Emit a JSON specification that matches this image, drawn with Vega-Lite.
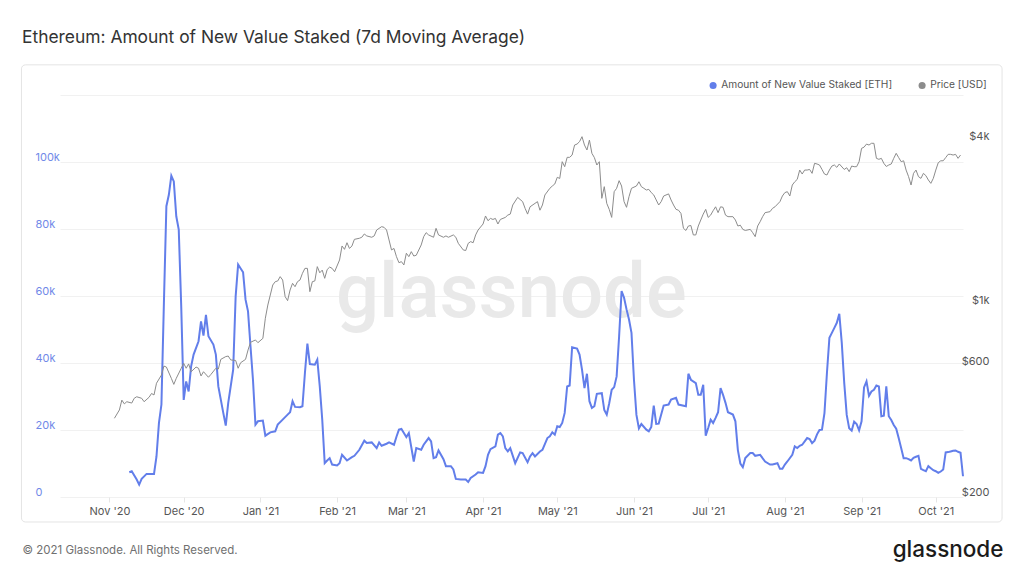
{
  "$schema": "https://vega.github.io/schema/vega-lite/v6.json",
  "width": 903,
  "height": 402,
  "autosize": "none",
  "padding": {"left": 60, "top": 95, "right": 61, "bottom": 79},
  "background": "#ffffff",
  "config": {"font": "Inter", "view": {"stroke": null}},
  "title": {"text": "Ethereum: Amount of New Value Staked (7d Moving Average)", "anchor": "start", "frame": "group", "dx": -38, "offset": 18, "fontSize": 17.4, "fontWeight": 400, "color": "#333333", "font": "Inter"},
  "datasets": {
    "staked": [
      {"date": "2020-11-09", "v": 7400}, {"date": "2020-11-10", "v": 7700}, {"date": "2020-11-12", "v": 5200}, {"date": "2020-11-13", "v": 3700}, {"date": "2020-11-14", "v": 5400}, {"date": "2020-11-16", "v": 6900}, {"date": "2020-11-18", "v": 6900}, {"date": "2020-11-19", "v": 6900}, {"date": "2020-11-20", "v": 12100}, {"date": "2020-11-21", "v": 22100}, {"date": "2020-11-22", "v": 27600}, {"date": "2020-11-23", "v": 58000}, {"date": "2020-11-24", "v": 86800}, {"date": "2020-11-25", "v": 90200}, {"date": "2020-11-26", "v": 95900}, {"date": "2020-11-27", "v": 94200}, {"date": "2020-11-28", "v": 83800}, {"date": "2020-11-29", "v": 79800}, {"date": "2020-11-30", "v": 56900},
      {"date": "2020-12-01", "v": 29000}, {"date": "2020-12-02", "v": 34500}, {"date": "2020-12-03", "v": 31500}, {"date": "2020-12-04", "v": 39000}, {"date": "2020-12-05", "v": 42500}, {"date": "2020-12-07", "v": 46500}, {"date": "2020-12-08", "v": 52400}, {"date": "2020-12-09", "v": 48200}, {"date": "2020-12-10", "v": 54400}, {"date": "2020-12-11", "v": 48000}, {"date": "2020-12-13", "v": 45500}, {"date": "2020-12-14", "v": 42500}, {"date": "2020-12-15", "v": 33000}, {"date": "2020-12-17", "v": 25100}, {"date": "2020-12-18", "v": 21300}, {"date": "2020-12-19", "v": 28100}, {"date": "2020-12-21", "v": 38000}, {"date": "2020-12-22", "v": 59900}, {"date": "2020-12-23", "v": 69400}, {"date": "2020-12-25", "v": 67100}, {"date": "2020-12-26", "v": 58900}, {"date": "2020-12-27", "v": 55400}, {"date": "2020-12-28", "v": 45000}, {"date": "2020-12-29", "v": 35000}, {"date": "2020-12-30", "v": 21600}, {"date": "2020-12-31", "v": 22600},
      {"date": "2021-01-02", "v": 22800}, {"date": "2021-01-03", "v": 18300}, {"date": "2021-01-05", "v": 19300}, {"date": "2021-01-07", "v": 19600}, {"date": "2021-01-08", "v": 21600}, {"date": "2021-01-10", "v": 23100}, {"date": "2021-01-12", "v": 24600}, {"date": "2021-01-13", "v": 25300}, {"date": "2021-01-14", "v": 28600}, {"date": "2021-01-15", "v": 26900}, {"date": "2021-01-17", "v": 26800}, {"date": "2021-01-18", "v": 27100}, {"date": "2021-01-19", "v": 37000}, {"date": "2021-01-20", "v": 45800}, {"date": "2021-01-21", "v": 39700}, {"date": "2021-01-23", "v": 39500}, {"date": "2021-01-24", "v": 41000}, {"date": "2021-01-25", "v": 33000}, {"date": "2021-01-26", "v": 23100}, {"date": "2021-01-27", "v": 10100}, {"date": "2021-01-28", "v": 10900}, {"date": "2021-01-29", "v": 11600}, {"date": "2021-01-30", "v": 9700},
      {"date": "2021-02-01", "v": 9400}, {"date": "2021-02-02", "v": 10100}, {"date": "2021-02-03", "v": 12600}, {"date": "2021-02-05", "v": 10900}, {"date": "2021-02-07", "v": 11900}, {"date": "2021-02-08", "v": 12300}, {"date": "2021-02-10", "v": 14100}, {"date": "2021-02-12", "v": 16800}, {"date": "2021-02-13", "v": 16100}, {"date": "2021-02-15", "v": 16300}, {"date": "2021-02-17", "v": 14600}, {"date": "2021-02-18", "v": 16300}, {"date": "2021-02-19", "v": 15300}, {"date": "2021-02-21", "v": 15900}, {"date": "2021-02-22", "v": 16300}, {"date": "2021-02-24", "v": 15600}, {"date": "2021-02-25", "v": 18000}, {"date": "2021-02-26", "v": 20100}, {"date": "2021-02-27", "v": 20300}, {"date": "2021-02-28", "v": 19100},
      {"date": "2021-03-01", "v": 17900}, {"date": "2021-03-02", "v": 19100}, {"date": "2021-03-04", "v": 10600}, {"date": "2021-03-05", "v": 14600}, {"date": "2021-03-07", "v": 14100}, {"date": "2021-03-08", "v": 15600}, {"date": "2021-03-10", "v": 17600}, {"date": "2021-03-11", "v": 16600}, {"date": "2021-03-12", "v": 11600}, {"date": "2021-03-13", "v": 11900}, {"date": "2021-03-14", "v": 13900}, {"date": "2021-03-16", "v": 11300}, {"date": "2021-03-17", "v": 9200}, {"date": "2021-03-19", "v": 9200}, {"date": "2021-03-20", "v": 8200}, {"date": "2021-03-21", "v": 5400}, {"date": "2021-03-23", "v": 5200}, {"date": "2021-03-25", "v": 5200}, {"date": "2021-03-26", "v": 4500}, {"date": "2021-03-27", "v": 5700}, {"date": "2021-03-29", "v": 6700}, {"date": "2021-03-30", "v": 7400},
      {"date": "2021-04-01", "v": 7200}, {"date": "2021-04-02", "v": 9200}, {"date": "2021-04-03", "v": 12600}, {"date": "2021-04-04", "v": 14300}, {"date": "2021-04-06", "v": 15100}, {"date": "2021-04-07", "v": 18600}, {"date": "2021-04-08", "v": 19100}, {"date": "2021-04-09", "v": 18100}, {"date": "2021-04-10", "v": 14600}, {"date": "2021-04-11", "v": 13600}, {"date": "2021-04-12", "v": 14600}, {"date": "2021-04-14", "v": 10100}, {"date": "2021-04-16", "v": 13300}, {"date": "2021-04-17", "v": 13100}, {"date": "2021-04-19", "v": 10400}, {"date": "2021-04-20", "v": 12100}, {"date": "2021-04-21", "v": 13100}, {"date": "2021-04-22", "v": 12100}, {"date": "2021-04-24", "v": 13600}, {"date": "2021-04-25", "v": 14100}, {"date": "2021-04-27", "v": 17600}, {"date": "2021-04-28", "v": 18100}, {"date": "2021-04-29", "v": 19300}, {"date": "2021-04-30", "v": 18600},
      {"date": "2021-05-01", "v": 21100}, {"date": "2021-05-02", "v": 20900}, {"date": "2021-05-03", "v": 22100}, {"date": "2021-05-04", "v": 25100}, {"date": "2021-05-05", "v": 33000}, {"date": "2021-05-06", "v": 33300}, {"date": "2021-05-07", "v": 44700}, {"date": "2021-05-09", "v": 44300}, {"date": "2021-05-10", "v": 42500}, {"date": "2021-05-11", "v": 38000}, {"date": "2021-05-12", "v": 32500}, {"date": "2021-05-13", "v": 36800}, {"date": "2021-05-14", "v": 28600}, {"date": "2021-05-15", "v": 26600}, {"date": "2021-05-16", "v": 27100}, {"date": "2021-05-17", "v": 30800}, {"date": "2021-05-19", "v": 31000}, {"date": "2021-05-20", "v": 26000}, {"date": "2021-05-21", "v": 24600}, {"date": "2021-05-22", "v": 28000}, {"date": "2021-05-23", "v": 32000}, {"date": "2021-05-24", "v": 32800}, {"date": "2021-05-25", "v": 36000}, {"date": "2021-05-26", "v": 48000}, {"date": "2021-05-27", "v": 61500}, {"date": "2021-05-28", "v": 59500}, {"date": "2021-05-29", "v": 56000}, {"date": "2021-05-30", "v": 53000}, {"date": "2021-05-31", "v": 49000},
      {"date": "2021-06-01", "v": 35000}, {"date": "2021-06-02", "v": 24500}, {"date": "2021-06-03", "v": 20500}, {"date": "2021-06-04", "v": 21800}, {"date": "2021-06-06", "v": 20100}, {"date": "2021-06-07", "v": 19600}, {"date": "2021-06-08", "v": 20900}, {"date": "2021-06-09", "v": 27300}, {"date": "2021-06-10", "v": 21800}, {"date": "2021-06-11", "v": 21900}, {"date": "2021-06-13", "v": 27300}, {"date": "2021-06-15", "v": 27600}, {"date": "2021-06-16", "v": 29100}, {"date": "2021-06-18", "v": 29600}, {"date": "2021-06-19", "v": 27600}, {"date": "2021-06-22", "v": 27100}, {"date": "2021-06-23", "v": 36800}, {"date": "2021-06-24", "v": 35000}, {"date": "2021-06-26", "v": 34000}, {"date": "2021-06-27", "v": 30500}, {"date": "2021-06-28", "v": 30500}, {"date": "2021-06-29", "v": 33500}, {"date": "2021-06-30", "v": 18300},
      {"date": "2021-07-01", "v": 20600}, {"date": "2021-07-02", "v": 23100}, {"date": "2021-07-03", "v": 22100}, {"date": "2021-07-04", "v": 23600}, {"date": "2021-07-05", "v": 25300}, {"date": "2021-07-06", "v": 32500}, {"date": "2021-07-07", "v": 30500}, {"date": "2021-07-08", "v": 28100}, {"date": "2021-07-09", "v": 25300}, {"date": "2021-07-11", "v": 24600}, {"date": "2021-07-12", "v": 22600}, {"date": "2021-07-13", "v": 14000}, {"date": "2021-07-14", "v": 10000}, {"date": "2021-07-15", "v": 8900}, {"date": "2021-07-16", "v": 11600}, {"date": "2021-07-18", "v": 13100}, {"date": "2021-07-19", "v": 13100}, {"date": "2021-07-20", "v": 12300}, {"date": "2021-07-22", "v": 12600}, {"date": "2021-07-24", "v": 10600}, {"date": "2021-07-26", "v": 9700}, {"date": "2021-07-27", "v": 9700}, {"date": "2021-07-29", "v": 10100}, {"date": "2021-07-30", "v": 8400}, {"date": "2021-07-31", "v": 8400},
      {"date": "2021-08-01", "v": 9700}, {"date": "2021-08-02", "v": 10600}, {"date": "2021-08-04", "v": 12600}, {"date": "2021-08-05", "v": 15100}, {"date": "2021-08-06", "v": 14600}, {"date": "2021-08-07", "v": 15300}, {"date": "2021-08-08", "v": 15600}, {"date": "2021-08-10", "v": 17600}, {"date": "2021-08-11", "v": 17300}, {"date": "2021-08-12", "v": 16100}, {"date": "2021-08-13", "v": 16800}, {"date": "2021-08-14", "v": 18700}, {"date": "2021-08-15", "v": 20000}, {"date": "2021-08-16", "v": 20100}, {"date": "2021-08-17", "v": 25000}, {"date": "2021-08-18", "v": 37000}, {"date": "2021-08-19", "v": 47500}, {"date": "2021-08-20", "v": 49000}, {"date": "2021-08-21", "v": 50500}, {"date": "2021-08-22", "v": 52000}, {"date": "2021-08-23", "v": 54700}, {"date": "2021-08-24", "v": 46000}, {"date": "2021-08-25", "v": 34000}, {"date": "2021-08-26", "v": 24500}, {"date": "2021-08-27", "v": 20500}, {"date": "2021-08-28", "v": 19800}, {"date": "2021-08-29", "v": 22500}, {"date": "2021-08-30", "v": 21800}, {"date": "2021-08-31", "v": 19900},
      {"date": "2021-09-01", "v": 22600}, {"date": "2021-09-02", "v": 32700}, {"date": "2021-09-03", "v": 34500}, {"date": "2021-09-04", "v": 30200}, {"date": "2021-09-05", "v": 31500}, {"date": "2021-09-06", "v": 32000}, {"date": "2021-09-07", "v": 33300}, {"date": "2021-09-08", "v": 33000}, {"date": "2021-09-09", "v": 24100}, {"date": "2021-09-10", "v": 24300}, {"date": "2021-09-11", "v": 33000}, {"date": "2021-09-12", "v": 24100}, {"date": "2021-09-13", "v": 23000}, {"date": "2021-09-14", "v": 21500}, {"date": "2021-09-15", "v": 20400}, {"date": "2021-09-16", "v": 17600}, {"date": "2021-09-17", "v": 14600}, {"date": "2021-09-18", "v": 11600}, {"date": "2021-09-19", "v": 11600}, {"date": "2021-09-20", "v": 11300}, {"date": "2021-09-21", "v": 10900}, {"date": "2021-09-22", "v": 11700}, {"date": "2021-09-23", "v": 12000}, {"date": "2021-09-24", "v": 12300}, {"date": "2021-09-25", "v": 8400}, {"date": "2021-09-26", "v": 8000}, {"date": "2021-09-27", "v": 7700}, {"date": "2021-09-28", "v": 9200}, {"date": "2021-09-29", "v": 8600}, {"date": "2021-09-30", "v": 8000},
      {"date": "2021-10-01", "v": 7700}, {"date": "2021-10-02", "v": 7200}, {"date": "2021-10-03", "v": 7600}, {"date": "2021-10-04", "v": 8200}, {"date": "2021-10-05", "v": 13300}, {"date": "2021-10-06", "v": 13400}, {"date": "2021-10-07", "v": 13600}, {"date": "2021-10-08", "v": 13800}, {"date": "2021-10-09", "v": 13900}, {"date": "2021-10-10", "v": 13500}, {"date": "2021-10-11", "v": 13200}, {"date": "2021-10-12", "v": 6200}
    ],
    "price": [
      {"date": "2020-11-03", "p": 388}, {"date": "2020-11-05", "p": 416}, {"date": "2020-11-06", "p": 452}, {"date": "2020-11-07", "p": 438}, {"date": "2020-11-08", "p": 446}, {"date": "2020-11-10", "p": 441}, {"date": "2020-11-11", "p": 459}, {"date": "2020-11-12", "p": 465}, {"date": "2020-11-14", "p": 459}, {"date": "2020-11-15", "p": 446}, {"date": "2020-11-17", "p": 463}, {"date": "2020-11-18", "p": 478}, {"date": "2020-11-19", "p": 472}, {"date": "2020-11-20", "p": 521}, {"date": "2020-11-22", "p": 558}, {"date": "2020-11-23", "p": 602}, {"date": "2020-11-24", "p": 597}, {"date": "2020-11-26", "p": 543}, {"date": "2020-11-27", "p": 516}, {"date": "2020-11-28", "p": 543}, {"date": "2020-11-30", "p": 591},
      {"date": "2020-12-01", "p": 616}, {"date": "2020-12-02", "p": 591}, {"date": "2020-12-03", "p": 613}, {"date": "2020-12-04", "p": 574}, {"date": "2020-12-06", "p": 597}, {"date": "2020-12-07", "p": 591}, {"date": "2020-12-08", "p": 554}, {"date": "2020-12-09", "p": 574}, {"date": "2020-12-11", "p": 548}, {"date": "2020-12-12", "p": 561}, {"date": "2020-12-14", "p": 591}, {"date": "2020-12-15", "p": 587}, {"date": "2020-12-16", "p": 637}, {"date": "2020-12-18", "p": 652}, {"date": "2020-12-19", "p": 655}, {"date": "2020-12-20", "p": 634}, {"date": "2020-12-22", "p": 631}, {"date": "2020-12-23", "p": 591}, {"date": "2020-12-24", "p": 619}, {"date": "2020-12-26", "p": 637}, {"date": "2020-12-27", "p": 689}, {"date": "2020-12-28", "p": 735}, {"date": "2020-12-30", "p": 750}, {"date": "2020-12-31", "p": 733},
      {"date": "2021-01-02", "p": 760}, {"date": "2021-01-03", "p": 900}, {"date": "2021-01-04", "p": 1006}, {"date": "2021-01-05", "p": 1095}, {"date": "2021-01-06", "p": 1191}, {"date": "2021-01-07", "p": 1225}, {"date": "2021-01-08", "p": 1232}, {"date": "2021-01-09", "p": 1278}, {"date": "2021-01-10", "p": 1242}, {"date": "2021-01-11", "p": 1080}, {"date": "2021-01-12", "p": 1044}, {"date": "2021-01-13", "p": 1142}, {"date": "2021-01-14", "p": 1208}, {"date": "2021-01-15", "p": 1174}, {"date": "2021-01-16", "p": 1225}, {"date": "2021-01-17", "p": 1242}, {"date": "2021-01-18", "p": 1314}, {"date": "2021-01-19", "p": 1370}, {"date": "2021-01-20", "p": 1370}, {"date": "2021-01-21", "p": 1126}, {"date": "2021-01-22", "p": 1225}, {"date": "2021-01-23", "p": 1232}, {"date": "2021-01-24", "p": 1390}, {"date": "2021-01-25", "p": 1320}, {"date": "2021-01-26", "p": 1350}, {"date": "2021-01-27", "p": 1260}, {"date": "2021-01-28", "p": 1357}, {"date": "2021-01-29", "p": 1385}, {"date": "2021-01-30", "p": 1370}, {"date": "2021-01-31", "p": 1332},
      {"date": "2021-02-02", "p": 1470}, {"date": "2021-02-03", "p": 1654}, {"date": "2021-02-04", "p": 1608}, {"date": "2021-02-05", "p": 1700}, {"date": "2021-02-06", "p": 1620}, {"date": "2021-02-07", "p": 1654}, {"date": "2021-02-08", "p": 1749}, {"date": "2021-02-10", "p": 1765}, {"date": "2021-02-11", "p": 1780}, {"date": "2021-02-12", "p": 1830}, {"date": "2021-02-13", "p": 1800}, {"date": "2021-02-15", "p": 1780}, {"date": "2021-02-16", "p": 1800}, {"date": "2021-02-17", "p": 1892}, {"date": "2021-02-19", "p": 1946}, {"date": "2021-02-20", "p": 1935}, {"date": "2021-02-21", "p": 1892}, {"date": "2021-02-22", "p": 1740}, {"date": "2021-02-23", "p": 1600}, {"date": "2021-02-24", "p": 1620}, {"date": "2021-02-25", "p": 1512}, {"date": "2021-02-26", "p": 1437}, {"date": "2021-02-27", "p": 1450}, {"date": "2021-02-28", "p": 1410},
      {"date": "2021-03-01", "p": 1556}, {"date": "2021-03-02", "p": 1512}, {"date": "2021-03-03", "p": 1577}, {"date": "2021-03-04", "p": 1520}, {"date": "2021-03-05", "p": 1530}, {"date": "2021-03-07", "p": 1668}, {"date": "2021-03-08", "p": 1789}, {"date": "2021-03-09", "p": 1850}, {"date": "2021-03-10", "p": 1815}, {"date": "2021-03-12", "p": 1780}, {"date": "2021-03-13", "p": 1919}, {"date": "2021-03-14", "p": 1815}, {"date": "2021-03-16", "p": 1780}, {"date": "2021-03-17", "p": 1800}, {"date": "2021-03-18", "p": 1780}, {"date": "2021-03-20", "p": 1815}, {"date": "2021-03-21", "p": 1780}, {"date": "2021-03-22", "p": 1691}, {"date": "2021-03-24", "p": 1600}, {"date": "2021-03-25", "p": 1592}, {"date": "2021-03-26", "p": 1691}, {"date": "2021-03-27", "p": 1716}, {"date": "2021-03-28", "p": 1700}, {"date": "2021-03-29", "p": 1815}, {"date": "2021-03-30", "p": 1892},
      {"date": "2021-04-01", "p": 1990}, {"date": "2021-04-02", "p": 2129}, {"date": "2021-04-03", "p": 2046}, {"date": "2021-04-04", "p": 2086}, {"date": "2021-04-05", "p": 2068}, {"date": "2021-04-06", "p": 2086}, {"date": "2021-04-07", "p": 1990}, {"date": "2021-04-08", "p": 2068}, {"date": "2021-04-10", "p": 2104}, {"date": "2021-04-11", "p": 2145}, {"date": "2021-04-12", "p": 2163}, {"date": "2021-04-13", "p": 2335}, {"date": "2021-04-15", "p": 2490}, {"date": "2021-04-17", "p": 2402}, {"date": "2021-04-18", "p": 2270}, {"date": "2021-04-19", "p": 2163}, {"date": "2021-04-20", "p": 2300}, {"date": "2021-04-22", "p": 2368}, {"date": "2021-04-23", "p": 2402}, {"date": "2021-04-24", "p": 2235}, {"date": "2021-04-25", "p": 2335}, {"date": "2021-04-26", "p": 2541}, {"date": "2021-04-28", "p": 2688}, {"date": "2021-04-29", "p": 2740}, {"date": "2021-04-30", "p": 2787},
      {"date": "2021-05-01", "p": 2948}, {"date": "2021-05-02", "p": 2920}, {"date": "2021-05-03", "p": 3362}, {"date": "2021-05-04", "p": 3224}, {"date": "2021-05-05", "p": 3488}, {"date": "2021-05-06", "p": 3488}, {"date": "2021-05-07", "p": 3556}, {"date": "2021-05-08", "p": 3868}, {"date": "2021-05-09", "p": 3900}, {"date": "2021-05-10", "p": 3980}, {"date": "2021-05-11", "p": 4150}, {"date": "2021-05-12", "p": 3868}, {"date": "2021-05-13", "p": 3710}, {"date": "2021-05-14", "p": 4034}, {"date": "2021-05-15", "p": 3608}, {"date": "2021-05-16", "p": 3480}, {"date": "2021-05-17", "p": 3270}, {"date": "2021-05-18", "p": 3362}, {"date": "2021-05-19", "p": 2470}, {"date": "2021-05-20", "p": 2725}, {"date": "2021-05-21", "p": 2368}, {"date": "2021-05-22", "p": 2251}, {"date": "2021-05-23", "p": 2104}, {"date": "2021-05-24", "p": 2612}, {"date": "2021-05-25", "p": 2688}, {"date": "2021-05-26", "p": 2866}, {"date": "2021-05-27", "p": 2740}, {"date": "2021-05-28", "p": 2402}, {"date": "2021-05-29", "p": 2290}, {"date": "2021-05-30", "p": 2505}, {"date": "2021-05-31", "p": 2688},
      {"date": "2021-06-02", "p": 2740}, {"date": "2021-06-03", "p": 2840}, {"date": "2021-06-04", "p": 2725}, {"date": "2021-06-05", "p": 2688}, {"date": "2021-06-06", "p": 2649}, {"date": "2021-06-07", "p": 2664}, {"date": "2021-06-08", "p": 2592}, {"date": "2021-06-09", "p": 2541}, {"date": "2021-06-10", "p": 2436}, {"date": "2021-06-11", "p": 2335}, {"date": "2021-06-12", "p": 2402}, {"date": "2021-06-13", "p": 2519}, {"date": "2021-06-15", "p": 2564}, {"date": "2021-06-16", "p": 2436}, {"date": "2021-06-17", "p": 2335}, {"date": "2021-06-18", "p": 2251}, {"date": "2021-06-19", "p": 2235}, {"date": "2021-06-20", "p": 2176}, {"date": "2021-06-21", "p": 1919}, {"date": "2021-06-22", "p": 1885}, {"date": "2021-06-23", "p": 1957}, {"date": "2021-06-24", "p": 1965}, {"date": "2021-06-25", "p": 1815}, {"date": "2021-06-26", "p": 1815}, {"date": "2021-06-27", "p": 1957}, {"date": "2021-06-28", "p": 2058}, {"date": "2021-06-29", "p": 2163}, {"date": "2021-06-30", "p": 2251},
      {"date": "2021-07-01", "p": 2104}, {"date": "2021-07-02", "p": 2145}, {"date": "2021-07-03", "p": 2226}, {"date": "2021-07-04", "p": 2300}, {"date": "2021-07-05", "p": 2190}, {"date": "2021-07-06", "p": 2300}, {"date": "2021-07-07", "p": 2290}, {"date": "2021-07-08", "p": 2145}, {"date": "2021-07-09", "p": 2117}, {"date": "2021-07-11", "p": 2117}, {"date": "2021-07-12", "p": 2058}, {"date": "2021-07-13", "p": 1957}, {"date": "2021-07-14", "p": 1970}, {"date": "2021-07-15", "p": 1902}, {"date": "2021-07-16", "p": 1885}, {"date": "2021-07-18", "p": 1902}, {"date": "2021-07-19", "p": 1850}, {"date": "2021-07-20", "p": 1789}, {"date": "2021-07-21", "p": 1957}, {"date": "2021-07-22", "p": 2029}, {"date": "2021-07-23", "p": 2117}, {"date": "2021-07-24", "p": 2190}, {"date": "2021-07-26", "p": 2208}, {"date": "2021-07-27", "p": 2270}, {"date": "2021-07-28", "p": 2300}, {"date": "2021-07-30", "p": 2402}, {"date": "2021-07-31", "p": 2519},
      {"date": "2021-08-01", "p": 2592}, {"date": "2021-08-02", "p": 2612}, {"date": "2021-08-03", "p": 2519}, {"date": "2021-08-04", "p": 2763}, {"date": "2021-08-05", "p": 2840}, {"date": "2021-08-06", "p": 2898}, {"date": "2021-08-07", "p": 3134}, {"date": "2021-08-08", "p": 3031}, {"date": "2021-08-09", "p": 3134}, {"date": "2021-08-10", "p": 3134}, {"date": "2021-08-11", "p": 3150}, {"date": "2021-08-12", "p": 3048}, {"date": "2021-08-13", "p": 3316}, {"date": "2021-08-14", "p": 3298}, {"date": "2021-08-15", "p": 3270}, {"date": "2021-08-16", "p": 3150}, {"date": "2021-08-17", "p": 3031}, {"date": "2021-08-18", "p": 3006}, {"date": "2021-08-19", "p": 3134}, {"date": "2021-08-20", "p": 3241}, {"date": "2021-08-21", "p": 3270}, {"date": "2021-08-22", "p": 3206}, {"date": "2021-08-23", "p": 3298}, {"date": "2021-08-25", "p": 3150}, {"date": "2021-08-26", "p": 3196}, {"date": "2021-08-27", "p": 3092}, {"date": "2021-08-28", "p": 3241}, {"date": "2021-08-29", "p": 3224}, {"date": "2021-08-30", "p": 3224}, {"date": "2021-08-31", "p": 3362},
      {"date": "2021-09-01", "p": 3762}, {"date": "2021-09-02", "p": 3800}, {"date": "2021-09-03", "p": 3900}, {"date": "2021-09-04", "p": 3868}, {"date": "2021-09-05", "p": 3925}, {"date": "2021-09-06", "p": 3925}, {"date": "2021-09-07", "p": 3458}, {"date": "2021-09-08", "p": 3430}, {"date": "2021-09-09", "p": 3458}, {"date": "2021-09-10", "p": 3316}, {"date": "2021-09-11", "p": 3230}, {"date": "2021-09-12", "p": 3270}, {"date": "2021-09-13", "p": 3298}, {"date": "2021-09-14", "p": 3458}, {"date": "2021-09-15", "p": 3608}, {"date": "2021-09-16", "p": 3480}, {"date": "2021-09-17", "p": 3362}, {"date": "2021-09-18", "p": 3388}, {"date": "2021-09-19", "p": 3134}, {"date": "2021-09-20", "p": 2965}, {"date": "2021-09-21", "p": 2763}, {"date": "2021-09-22", "p": 3048}, {"date": "2021-09-23", "p": 3134}, {"date": "2021-09-24", "p": 2965}, {"date": "2021-09-25", "p": 2922}, {"date": "2021-09-26", "p": 3048}, {"date": "2021-09-27", "p": 2990}, {"date": "2021-09-28", "p": 2882}, {"date": "2021-09-29", "p": 2802}, {"date": "2021-09-30", "p": 2922},
      {"date": "2021-10-01", "p": 3134}, {"date": "2021-10-02", "p": 3334}, {"date": "2021-10-03", "p": 3388}, {"date": "2021-10-04", "p": 3388}, {"date": "2021-10-05", "p": 3480}, {"date": "2021-10-06", "p": 3577}, {"date": "2021-10-07", "p": 3577}, {"date": "2021-10-08", "p": 3556}, {"date": "2021-10-09", "p": 3577}, {"date": "2021-10-10", "p": 3458}, {"date": "2021-10-11", "p": 3556}
    ]
  },
  "layer": [
    {
      "layer": [
        {
          "data": {"values": [{}]},
          "mark": {"type": "rect", "fillOpacity": 0, "stroke": "#e4e4e4", "strokeWidth": 1, "cornerRadius": 4},
          "encoding": {
            "x": {"datum": {"year": 2020, "month": 9, "date": 26, "hours": 10, "utc": true}, "type": "temporal", "title": "© 2021 Glassnode. All Rights Reserved.", "scale": {"type": "utc", "domain": [{"year": 2020, "month": 10, "date": 12, "utc": true}, {"year": 2021, "month": 10, "date": 12, "utc": true}]}},
            "x2": {"datum": {"year": 2021, "month": 10, "date": 27, "hours": 19, "utc": true}},
            "y": {"datum": 129000, "type": "quantitative", "title": null, "scale": {"domain": [0, 120000]}},
            "y2": {"datum": -7460}
          }
        },
        {
          "data": {"values": [{"t": "glassnode"}]},
          "mark": {"type": "text", "fontSize": 76, "fontWeight": 500, "color": "#e9e9e9", "align": "center", "baseline": "alphabetic", "font": "Roboto"},
          "encoding": {
            "x": {"datum": {"year": 2021, "month": 4, "date": 12, "hours": 10, "utc": true}, "type": "temporal", "title": "© 2021 Glassnode. All Rights Reserved."},
            "y": {"datum": 53700, "type": "quantitative", "title": null},
            "text": {"field": "t"}
          }
        },
        {
          "data": {"name": "staked"},
          "mark": {"type": "line", "strokeWidth": 2},
          "encoding": {
            "x": {"field": "date", "type": "temporal", "title": "© 2021 Glassnode. All Rights Reserved.",
              "axis": {"tickCount": "month", "format": "%b '%y", "domain": false, "ticks": true, "tickSize": 5, "tickColor": "#e6e6e6", "labelColor": "#555555", "labelFontSize": 11, "labelPadding": 3, "labelFlush": false, "grid": false,
                "titleX": -38, "titleY": 53, "titleAlign": "left", "titleBaseline": "middle", "titleFontSize": 11.5, "titleFontWeight": 400, "titleColor": "#707070", "titleFont": "Inter"}},
            "y": {"field": "v", "type": "quantitative", "title": null,
              "axis": {"orient": "left", "values": [0, 20000, 40000, 60000, 80000, 100000, 120000], "labelExpr": "datum.value >= 120000 ? '' : (datum.value == 0 ? '0' : (datum.value / 1000) + 'k')", "domain": false, "ticks": false, "tickSize": 0, "labelAlign": "left", "labelPadding": 25, "labelBaseline": "bottom", "labelColor": "#7189e8", "labelFontSize": 11, "grid": true, "gridColor": "#f1f1f1", "gridWidth": 1}},
            "color": {"datum": "Amount of New Value Staked [ETH]", "type": "nominal",
              "scale": {"domain": ["Amount of New Value Staked [ETH]", "Price [USD]"], "range": ["#627EEA", "#8c8c8c"]},
              "legend": {"orient": "none", "legendX": 648, "legendY": -15, "direction": "horizontal", "title": null, "symbolType": "circle", "symbolSize": 50, "labelFontSize": 10.2, "labelLimit": 400, "labelColor": "#555555", "columnPadding": 24, "labelOffset": 3,
                "encode": {"symbols": {"update": {"fill": {"scale": "color", "field": "value"}, "strokeWidth": {"value": 0}}}}}}
          }
        }
      ]
    },
    {
      "data": {"name": "price"},
      "mark": {"type": "line", "strokeWidth": 1},
      "encoding": {
        "x": {"field": "date", "type": "temporal", "title": "© 2021 Glassnode. All Rights Reserved."},
        "y": {"field": "p", "type": "quantitative", "title": "glassnode", "scale": {"type": "log", "domain": [200, 5894]},
          "axis": {"orient": "right", "values": [200, 600, 1000, 4000], "labelExpr": "datum.value >= 1000 ? '$' + (datum.value / 1000) + 'k' : '$' + datum.value", "domain": false, "ticks": false, "tickSize": 0, "grid": false, "labelAlign": "right", "labelPadding": 26, "labelBaseline": "bottom", "labelColor": "#555555", "labelFontSize": 11,
            "titleAngle": 0, "titleX": 40, "titleY": 454, "titleAlign": "right", "titleBaseline": "middle", "titleFontSize": 22.5, "titleFontWeight": 500, "titleColor": "#1b1b1b", "titleFont": "Inter"}},
        "color": {"datum": "Price [USD]", "type": "nominal"}
      }
    }
  ],
  "resolve": {"scale": {"y": "independent"}, "axis": {"y": "independent"}}
}
